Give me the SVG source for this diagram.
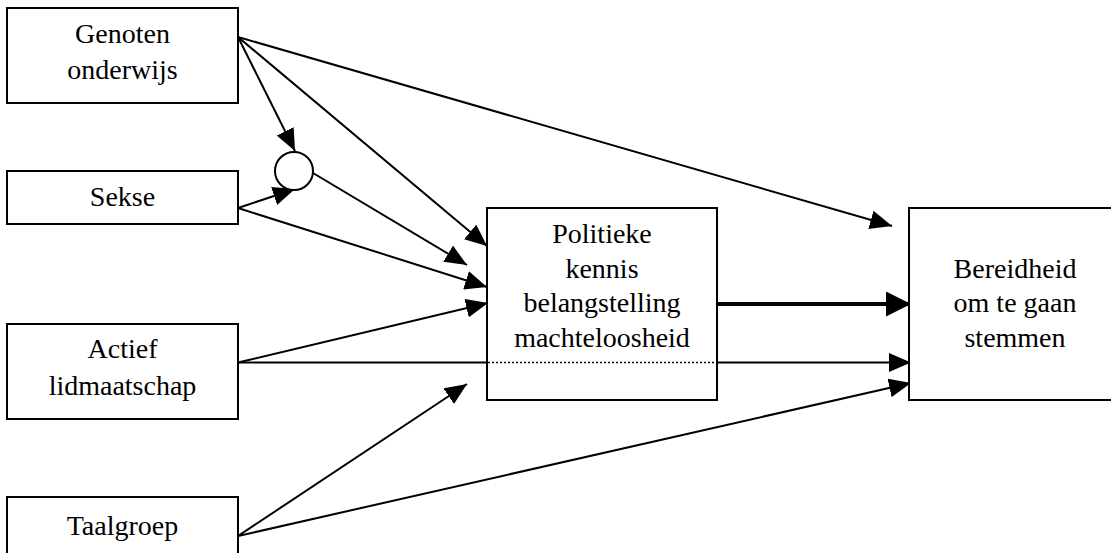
<svg xmlns="http://www.w3.org/2000/svg" width="1111" height="553" viewBox="0 0 1111 553" font-family="Liberation Serif, serif">
<style>
.box{fill:#fff;stroke:#000;stroke-width:2}
.c{stroke:#000;stroke-width:2;fill:none;marker-end:url(#ah)}
.thick{stroke:#000;stroke-width:4;fill:none;marker-end:url(#ahb)}
.plain{stroke:#000;stroke-width:2;fill:none}
.dot{stroke:#000;stroke-width:1.5;fill:none;stroke-dasharray:2 2}
</style>
<defs>
<marker id="ah" markerUnits="userSpaceOnUse" markerWidth="22" markerHeight="19" refX="22" refY="9.5" orient="auto" viewBox="0 0 22 19">
<path d="M0,0 L22,9.5 L0,19 Z" fill="#000"/>
</marker>
<marker id="ahb" markerUnits="userSpaceOnUse" markerWidth="25" markerHeight="25" refX="25" refY="12.5" orient="auto" viewBox="0 0 25 25">
<path d="M0,0 L25,12.5 L0,25 Z" fill="#000"/>
</marker>
</defs>
<rect width="1111" height="553" fill="#fff"/>
<g id="connectors">
<line class="c" x1="238" y1="37" x2="892" y2="226"/>
<line class="c" x1="238" y1="37" x2="295" y2="151"/>
<line class="c" x1="238" y1="37" x2="487" y2="246"/>
<line class="c" x1="313" y1="173" x2="467" y2="265"/>
<line class="c" x1="238" y1="208" x2="295" y2="189"/>
<line class="c" x1="238" y1="208" x2="487" y2="287"/>
<line class="c" x1="238" y1="362.5" x2="488" y2="303"/>
<line class="plain" x1="238" y1="362.5" x2="487" y2="362.5"/>
<line class="c" x1="717" y1="362.5" x2="911" y2="362.5"/>
<line class="c" x1="238" y1="536" x2="467" y2="384"/>
<line class="c" x1="238" y1="536" x2="911" y2="383"/>
<line class="thick" x1="717" y1="304" x2="911" y2="304"/>
</g>
<g id="genoten">
<rect class="box" x="7" y="8" width="231" height="95"/>
<text x="122.5" y="43" font-size="28" text-anchor="middle" style="font-family:'Liberation Serif',serif">Genoten</text>
<text x="122.5" y="79" font-size="28" text-anchor="middle" style="font-family:'Liberation Serif',serif">onderwijs</text>
</g>
<g id="sekse">
<rect class="box" x="7" y="171" width="231" height="53"/>
<text x="122.5" y="206" font-size="28" text-anchor="middle" style="font-family:'Liberation Serif',serif">Sekse</text>
</g>
<g id="actief">
<rect class="box" x="7" y="324" width="231" height="95"/>
<text x="122.5" y="358" font-size="28" text-anchor="middle" style="font-family:'Liberation Serif',serif">Actief</text>
<text x="122.5" y="395" font-size="28" text-anchor="middle" style="font-family:'Liberation Serif',serif">lidmaatschap</text>
</g>
<g id="taalgroep">
<rect class="box" x="7" y="497" width="231" height="70"/>
<text x="122.5" y="535" font-size="28" text-anchor="middle" style="font-family:'Liberation Serif',serif">Taalgroep</text>
</g>
<g id="interactie">
<circle class="box" cx="294" cy="171" r="19"/>
</g>
<g id="politieke">
<rect class="box" x="487" y="208" width="230" height="192"/>
<line class="dot" x1="488" y1="362.5" x2="716" y2="362.5"/>
<text x="602" y="243" font-size="28" text-anchor="middle" style="font-family:'Liberation Serif',serif">Politieke</text>
<text x="602" y="278" font-size="28" text-anchor="middle" style="font-family:'Liberation Serif',serif">kennis</text>
<text x="602" y="312" font-size="28" text-anchor="middle" style="font-family:'Liberation Serif',serif">belangstelling</text>
<text x="602" y="347" font-size="28" text-anchor="middle" style="font-family:'Liberation Serif',serif">machteloosheid</text>
</g>
<g id="bereidheid">
<rect class="box" x="909" y="208" width="215" height="192"/>
<text x="1015" y="278" font-size="28" text-anchor="middle" style="font-family:'Liberation Serif',serif">Bereidheid</text>
<text x="1015" y="312" font-size="28" text-anchor="middle" style="font-family:'Liberation Serif',serif">om te gaan</text>
<text x="1015" y="347" font-size="28" text-anchor="middle" style="font-family:'Liberation Serif',serif">stemmen</text>
</g>
</svg>
